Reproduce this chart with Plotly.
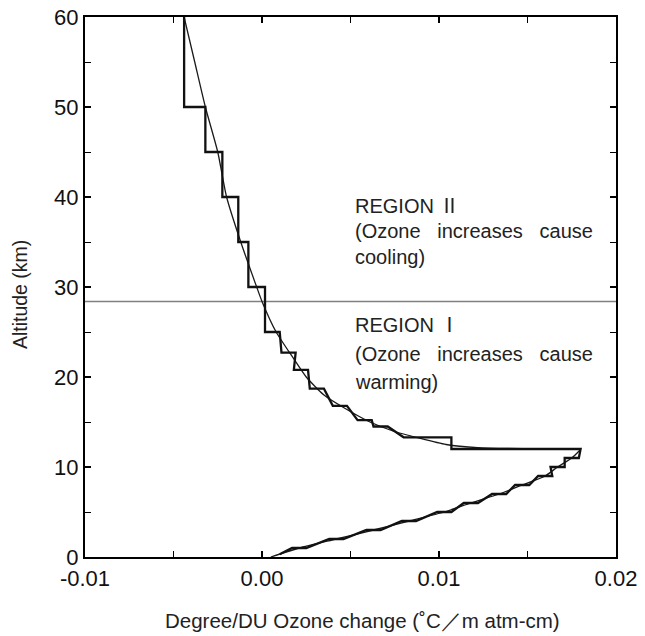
import plotly.graph_objects as go

# ---- data ----
# stepped (layer) profile: vertices of the drawn step line, value (degree/DU) and altitude (km)
step_val = [-0.0044, -0.0044, -0.0032, -0.0032, -0.00224, -0.00224, -0.00134, -0.00134,
            -0.00077, -0.00077, 0.00017, 0.00017, 0.0010,
            0.0011, 0.0019, 0.0018, 0.0026, 0.0027, 0.0035, 0.0040, 0.0048,
            0.0054, 0.0062, 0.0063, 0.0071, 0.0080, 0.0107, 0.0107, 0.0180,
            0.0179, 0.0171, 0.0171, 0.0163, 0.0164, 0.0156, 0.0151, 0.0143,
            0.0138, 0.0130, 0.0122, 0.0114, 0.0107, 0.0099, 0.0087, 0.0079,
            0.0067, 0.0059, 0.0046, 0.0038, 0.0025, 0.0017, 0.0010]
step_alt = [60, 50, 50, 45, 45, 40, 40, 35,
            35, 30, 30, 25, 25,
            22.7, 22.7, 20.8, 20.8, 18.7, 18.7, 16.8, 16.8,
            15.2, 15.2, 14.5, 14.5, 13.3, 13.3, 12.0, 12.0,
            11, 11, 10, 10, 9, 9, 8, 8,
            7, 7, 6, 6, 5, 5, 4, 4,
            3, 3, 2, 2, 1, 1, 0.3]

# smooth curve
smooth_upper_alt = [60, 55, 50, 45, 40, 35, 30, 28.4, 25, 22, 20, 18, 16.5, 15, 14, 13.2, 12.5, 12.15, 12.02, 11.95]
smooth_upper_val = [-0.0044, -0.0038, -0.0032, -0.0025, -0.0020, -0.0012, -0.0003, 0.0, 0.0008, 0.0018,
                    0.0025, 0.0035, 0.0047, 0.0061, 0.0074, 0.0089, 0.0104, 0.0122, 0.0150, 0.0180]
smooth_lower_alt = [11.95, 11, 10, 9, 8, 7, 6, 5, 4, 3, 2, 1, 0]
smooth_lower_val = [0.0180, 0.0175, 0.0167, 0.0160, 0.0147, 0.0134, 0.0118, 0.0103, 0.0083,
                    0.0063, 0.0042, 0.0021, 0.0005]

boundary_alt = 28.4
x_tickvals = [-0.01, 0.0, 0.01, 0.02]
x_ticktext = ["-0.01", "0.00", "0.01", "0.02"]
y_tickvals = [0, 10, 20, 30, 40, 50, 60]

NUM = "<span style='font-family:Noto Sans CJK JP'>{}</span>"
GAP = "\u00a0\u00a0 "
region2_lines = ["REGION " + NUM.format("\u2161"), "(Ozone" + GAP + "increases" + GAP + "cause", "cooling)"]
region2_alt = [39.2, 36.2, 33.3]
region1_lines = ["REGION " + NUM.format("\u2160"), "(Ozone" + GAP + "increases" + GAP + "cause", "warming)"]
region1_alt = [25.9, 22.6, 19.5]
text_x = 0.00514

FONT = "Liberation Sans, Arial, sans-serif"

fig = go.Figure()

# boundary line
fig.add_trace(go.Scatter(x=[-0.01, 0.02], y=[boundary_alt, boundary_alt], mode="lines",
                         line=dict(color="#808080", width=1.5), showlegend=False, hoverinfo="skip"))

# smooth curve
fig.add_trace(go.Scatter(x=smooth_upper_val, y=smooth_upper_alt, mode="lines",
                         line=dict(color="#1a1a1a", width=1.3, shape="spline", smoothing=0.6),
                         showlegend=False))
fig.add_trace(go.Scatter(x=smooth_lower_val, y=smooth_lower_alt, mode="lines",
                         line=dict(color="#1a1a1a", width=1.3, shape="spline", smoothing=0.6),
                         showlegend=False))

# stepped profile
fig.add_trace(go.Scatter(x=step_val, y=step_alt, mode="lines",
                         line=dict(color="#111111", width=2.3), showlegend=False))

for txt, a in zip(region2_lines + region1_lines, region2_alt + region1_alt):
    fig.add_annotation(x=text_x, y=a, xref="x", yref="y", text=txt, showarrow=False,
                       xanchor="left", yanchor="middle",
                       font=dict(family=FONT, size=20, color="#222222"))

fig.add_annotation(x=-0.1224, y=0.485, xref="paper", yref="paper", text="Altitude (km)",
                   textangle=-90, showarrow=False, xanchor="center", yanchor="middle",
                   font=dict(family=FONT, size=19.5, color="#222222"))
fig.add_annotation(x=0.5235, y=-0.1185, xref="paper", yref="paper",
                   text="Degree/DU Ozone change (\u02daC\uff0fm atm-cm)",
                   showarrow=False, xanchor="center", yanchor="middle",
                   font=dict(family=FONT, size=20.5, color="#222222"))

fig.update_xaxes(range=[-0.01, 0.02], tickvals=x_tickvals, ticktext=x_ticktext,
                 ticks="inside", ticklen=6, tickwidth=1.5, tickcolor="black",
                 minor=dict(dtick=0.005, tick0=0, ticks="inside", ticklen=6, tickwidth=1.2, tickcolor="black"),
                 showline=True, linewidth=2.2, linecolor="black", mirror="ticks",
                 showgrid=False, zeroline=False, automargin=False, ticklabeloverflow="allow",
                 tickfont=dict(family=FONT, size=22, color="#111111"))
fig.update_yaxes(range=[0, 60], tickvals=y_tickvals,
                 ticks="inside", ticklen=6, tickwidth=1.5, tickcolor="black",
                 minor=dict(dtick=5, tick0=0, ticks="inside", ticklen=6, tickwidth=1.2, tickcolor="black"),
                 showline=True, linewidth=2.2, linecolor="black", mirror="ticks",
                 showgrid=False, zeroline=False, automargin=False, ticklabeloverflow="allow",
                 tickfont=dict(family=FONT, size=22, color="#111111"))

# page body adds an 8px margin, so the figure is sized to fit the window
fig.update_layout(width=637, height=628, plot_bgcolor="white", paper_bgcolor="white",
                  margin=dict(l=77, r=29, t=9, b=79, autoexpand=False), showlegend=False)

fig.write_html("out.html")
